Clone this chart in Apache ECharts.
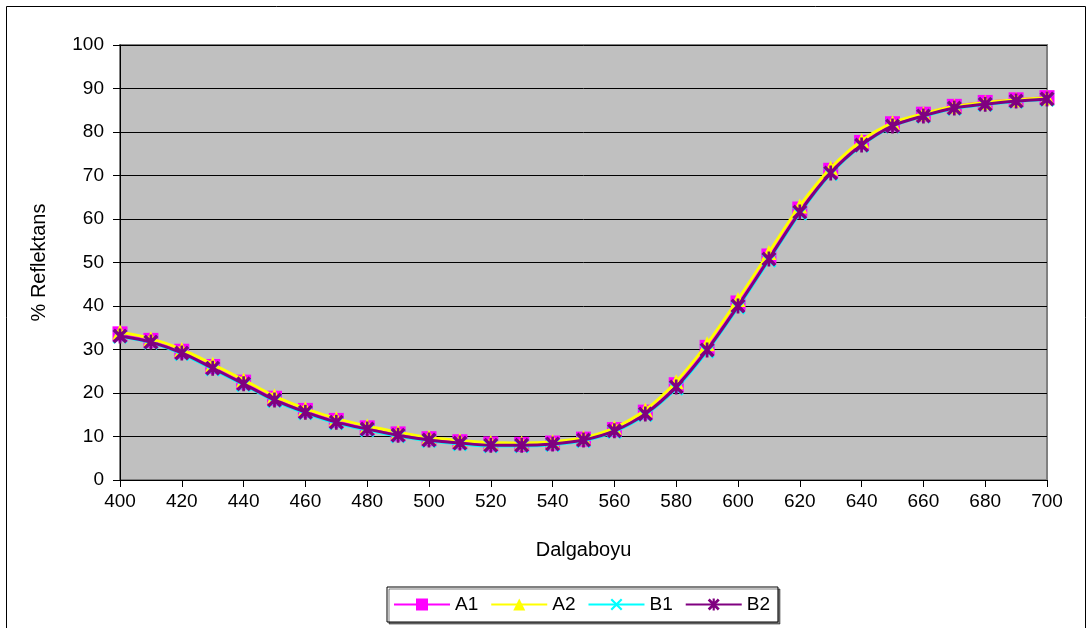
<!DOCTYPE html>
<html><head><meta charset="utf-8">
<script src="https://cdn.jsdelivr.net/npm/echarts@6/dist/echarts.min.js"></script>
<style>html,body{margin:0;padding:0;background:#fff}#c{width:1089px;height:628px}</style>
</head><body><div id="c"></div>
<script>
const wavelengths = [400,410,420,430,440,450,460,470,480,490,500,510,520,530,540,550,560,570,580,590,600,610,620,630,640,650,660,670,680,690,700];
const A1 = [33.6,32.1,29.6,26.1,22.5,18.8,16.0,13.7,12.0,10.6,9.5,8.8,8.3,8.2,8.5,9.4,11.6,15.6,21.9,30.5,40.7,51.5,62.3,71.2,77.6,81.9,84.1,85.9,86.8,87.4,87.9];
const A2 = [34.0,32.5,30.0,26.6,23.0,19.3,16.4,14.1,12.4,11.0,9.8,9.1,8.6,8.5,8.8,9.7,12.0,16.1,22.6,31.3,41.5,52.3,63.0,71.7,78.0,82.1,84.2,85.9,86.8,87.4,87.9];
const B1 = [33.0,31.6,29.0,25.5,21.9,18.2,15.4,13.1,11.5,10.1,9.0,8.3,7.8,7.8,8.1,9.0,11.1,15.0,21.1,29.6,39.7,50.5,61.3,70.4,76.9,81.3,83.6,85.4,86.3,87.0,87.5];
const B2 = [33.1,31.7,29.2,25.7,22.1,18.4,15.6,13.3,11.7,10.3,9.2,8.5,8.0,8.0,8.3,9.2,11.3,15.2,21.4,29.9,40.0,50.8,61.6,70.6,77.0,81.4,83.7,85.5,86.4,87.1,87.6];
const yTicks = {min:0, max:100, interval:10};
const xTicks = {min:400, max:700, interval:20};

const pair = arr => wavelengths.map((w,i)=>[w,arr[i]]);
const crossPath = 'path://M0,1.3 L1.3,0 L10,8.7 L8.7,10 Z M8.7,0 L10,1.3 L1.3,10 L0,8.7 Z';
const starPath = 'path://M0,1.6 L1.6,0 L10,8.4 L8.4,10 Z M8.4,0 L10,1.6 L1.6,10 L0,8.4 Z M4.1,0 L5.9,0 L5.9,10 L4.1,10 Z';
const font = 'Liberation Sans, Arial, sans-serif';

function mk(name, data, color, symbol, size, z){
  return {name, type:'line', data:pair(data), smooth:0.3, symbol, symbolSize:size,
    lineStyle:{color, width:3}, itemStyle:{color, borderWidth:0}, z, animation:false};
}

const chart = echarts.init(document.getElementById('c'));
chart.setOption({
  animation:false,
  backgroundColor:'#ffffff',
  textStyle:{fontFamily:font},
  graphic:[{type:'rect', shape:{x:6.5,y:6.5,width:1079,height:640}, style:{fill:'none', stroke:'#000', lineWidth:1}, silent:true, z:-1}],
  grid:{left:120, top:45, width:927, height:435, show:true, backgroundColor:'#c0c0c0', borderColor:'#808080', borderWidth:2},
  xAxis:{type:'value', min:xTicks.min, max:xTicks.max, interval:xTicks.interval,
    name:'Dalgaboyu', nameLocation:'middle', nameGap:60, nameTextStyle:{fontSize:20, color:'#000', fontFamily:font},
    axisLine:{show:true, onZero:false, lineStyle:{color:'#000', width:1}},
    axisTick:{show:true, length:7, lineStyle:{color:'#000'}},
    axisLabel:{fontSize:19, color:'#000', margin:12, fontFamily:font},
    splitLine:{show:false}},
  yAxis:{type:'value', min:yTicks.min, max:yTicks.max, interval:yTicks.interval,
    name:'% Reflektans', nameLocation:'middle', nameGap:71, nameRotate:90, nameTextStyle:{fontSize:20, color:'#000', fontFamily:font},
    axisLine:{show:true, lineStyle:{color:'#000', width:1}},
    axisTick:{show:true, length:7, lineStyle:{color:'#000'}},
    axisLabel:{fontSize:19, color:'#000', margin:16, fontFamily:font},
    splitLine:{show:true, lineStyle:{color:'#000', width:1}}},
  legend:{top:587, left:387, itemWidth:56, itemHeight:15, itemGap:12, padding:[8,8,8,6],
    borderColor:'#000', borderWidth:1, backgroundColor:'#fff',
    shadowColor:'rgba(0,0,0,0.5)', shadowOffsetX:2, shadowOffsetY:2,
    textStyle:{fontSize:19, color:'#000', fontFamily:font},
    data:['A1','A2','B1','B2']},
  series:[
    mk('A1', A1, '#ff00ff', 'rect', 15, 2),
    mk('A2', A2, '#ffff00', 'triangle', 15, 3),
    mk('B1', B1, '#00ffff', crossPath, 15, 4),
    mk('B2', B2, '#800080', starPath, 15, 5)
  ]
});
</script></body></html>
